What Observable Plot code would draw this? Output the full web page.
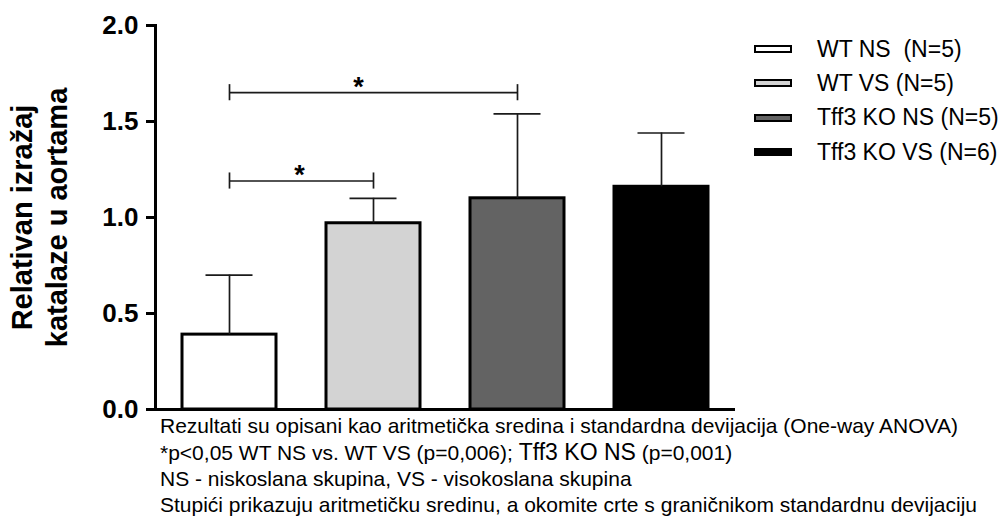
<!DOCTYPE html>
<html>
<head>
<meta charset="utf-8">
<script src="https://cdn.jsdelivr.net/npm/d3@7"></script>
<script src="https://cdn.jsdelivr.net/npm/@observablehq/plot@0.6"></script>
<style>
  html, body { margin: 0; padding: 0; background: #fff; overflow: hidden; }
  #wrap { position: relative; width: 1003px; height: 518px; font-family: "Liberation Sans", Arial, sans-serif; color: #000; }
  #chart { position: absolute; left: 0; top: 0; }
  #legend { position: absolute; left: 754px; top: 32px; }
  .row { display: flex; align-items: center; height: 34.3px; font-size: 23px; white-space: pre; }
  .sw { width: 34px; height: 4px; border: 2.5px solid #000; margin-right: 25px; }
  #caption { position: absolute; left: 160px; top: 413px; font-size: 21px; line-height: 26px; white-space: pre; }
  .big { font-size: 23px; }
</style>
</head>
<body>
<div id="wrap"><div id="chart"></div><div id="legend"></div><div id="caption"></div></div>
<script>
// ---- data ----
const groups = ["WT NS", "WT VS", "Tff3 KO NS", "Tff3 KO VS"];
const legendLabels = ["WT NS  (N=5)", "WT VS (N=5)", "Tff3 KO NS (N=5)", "Tff3 KO VS (N=6)"];
const means = [0.39, 0.97, 1.10, 1.16];
const sds = [0.31, 0.13, 0.44, 0.28];
const fills = ["#ffffff", "#d3d3d3", "#636363", "#000000"];
const yTicks = [0, 0.5, 1.0, 1.5, 2.0];
const sigFrom = ["WT NS", "WT NS"];
const sigTo = ["WT VS", "Tff3 KO NS"];
const sigY = [1.19, 1.65];
const sigLabel = ["*", "*"];
const yLabel = "Relativan izražaj\nkatalaze u aortama";
const captionLines = [
  "Rezultati su opisani kao aritmetička sredina i standardna devijacija (One-way ANOVA)",
  ["*p<0,05 WT NS vs. WT VS (p=0,006); ", "Tff3 KO NS", " (p=0,001)"],
  "NS - niskoslana skupina, VS - visokoslana skupina",
  "Stupići prikazuju aritmetičku sredinu, a okomite crte s graničnikom standardnu devijaciju"
];

const data = groups.map((g, i) => ({group: g, mean: means[i], sd: sds[i], top: means[i] + sds[i]}));
const sig = sigFrom.map((f, i) => ({from: f, to: sigTo[i], y: sigY[i], label: sigLabel[i]}));
const tickHalf = 0.042;

const chart = Plot.plot({
  width: 1003,
  height: 432,
  marginLeft: 155,
  marginRight: 268,
  marginTop: 25,
  marginBottom: 23,
  style: {fontFamily: '"Liberation Sans", Arial, sans-serif', background: "transparent", color: "black"},
  x: {domain: groups, axis: null, paddingInner: 0.347, paddingOuter: 0.18},
  y: {domain: [0, 2], axis: null},
  color: {domain: groups, range: fills},
  marks: [
    Plot.barY(data, {x: "group", y: "mean", fill: "group", stroke: "black", strokeWidth: 3}),
    Plot.ruleX(data, {x: "group", y1: "mean", y2: "top", stroke: "#1a1a1a", strokeWidth: 1.7}),
    Plot.tickY(data, {x: "group", y: "top", stroke: "#1a1a1a", strokeWidth: 1.7, insetLeft: 23.5, insetRight: 23.5}),
    Plot.link(sig, {x1: "from", x2: "to", y1: "y", y2: "y", stroke: "#1a1a1a", strokeWidth: 1.7}),
    Plot.ruleX(sig, {x: "from", y1: d => d.y - tickHalf, y2: d => d.y + tickHalf, stroke: "#1a1a1a", strokeWidth: 1.7}),
    Plot.ruleX(sig, {x: "to", y1: d => d.y - tickHalf, y2: d => d.y + tickHalf, stroke: "#1a1a1a", strokeWidth: 1.7}),
    Plot.text(sig.filter(d => d.to === "Tff3 KO NS"), {x: "to", y: "y", text: "label", dx: -159, dy: -5, fontSize: 27, fontWeight: "bold"}),
    Plot.text(sig.filter(d => d.to === "WT VS"), {x: "from", y: "y", text: "label", dx: 70, dy: -6, fontSize: 27, fontWeight: "bold"}),
    Plot.ruleY([0], {stroke: "black", strokeWidth: 3}),
    Plot.frame({anchor: "left", stroke: "black", strokeWidth: 3}),
    Plot.axisY({ticks: yTicks, tickFormat: d => d.toFixed(1), tickSize: 9, tickPadding: 8, strokeWidth: 3, fontSize: 26, fontWeight: "bold", label: null}),
    Plot.text([yLabel], {frameAnchor: "left", rotate: -90, dx: -117, fontSize: 29, fontWeight: "bold", lineHeight: 1.2, textAnchor: "middle", lineAnchor: "middle"})
  ]
});
document.getElementById("chart").appendChild(chart);

// legend
const legend = document.getElementById("legend");
legendLabels.forEach((lab, i) => {
  const row = document.createElement("div");
  row.className = "row";
  const sw = document.createElement("div");
  sw.className = "sw";
  sw.style.background = fills[i];
  const t = document.createElement("span");
  t.textContent = lab;
  row.appendChild(sw); row.appendChild(t);
  legend.appendChild(row);
});

// caption
const cap = document.getElementById("caption");
captionLines.forEach(line => {
  const div = document.createElement("div");
  if (Array.isArray(line)) {
    line.forEach((part, j) => {
      const s = document.createElement("span");
      s.textContent = part;
      if (j === 1) s.className = "big";
      div.appendChild(s);
    });
  } else div.textContent = line;
  cap.appendChild(div);
});
</script>
</body>
</html>
